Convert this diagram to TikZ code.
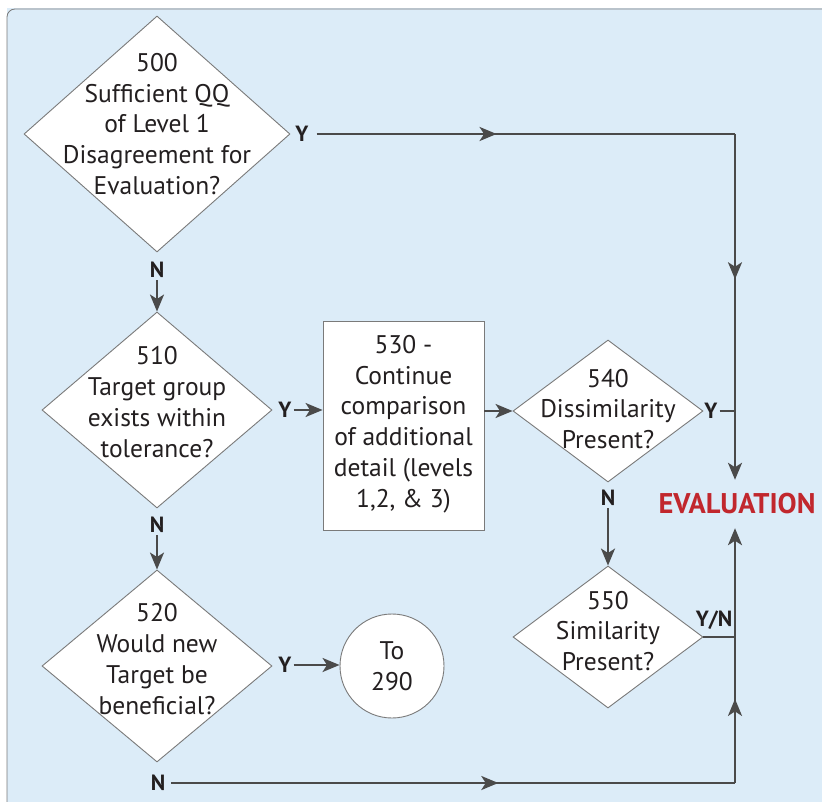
\documentclass[tikz,border=0pt]{standalone}
\usepackage{fontspec}
\setmainfont{PT Sans}
\usetikzlibrary{shapes.geometric,arrows.meta,decorations.markings,calc}
\definecolor{bgedge}{HTML}{B6D9EF}
\definecolor{bgmid}{HTML}{DCECF8}
\definecolor{lineg}{HTML}{4A4A4A}
\definecolor{shapeg}{HTML}{7A7A7A}
\definecolor{evalred}{HTML}{C1272D}
\definecolor{txtc}{HTML}{231F20}
\pgfdeclareradialshading{panelshade}{\pgfpoint{0bp}{0bp}}{color(0bp)=(bgmid); color(42bp)=(bgmid); color(50bp)=(bgedge); color(72bp)=(bgedge)}
\tikzset{
  dec/.style={diamond, draw=shapeg, fill=white, line width=0.9pt, inner sep=0pt},
  procbox/.style={rectangle, draw=shapeg, fill=white, line width=0.9pt, inner sep=0pt},
  termc/.style={circle, draw=shapeg, fill=white, line width=0.9pt, inner sep=0pt, minimum size=104pt},
  txt/.style={align=center, text=txtc, font=\fontsize{25.5}{30.8}\selectfont, inner sep=0pt},
  lab/.style={text=txtc, font=\fontsize{22}{24}\selectfont\bfseries, inner sep=2pt},
  flow/.style={draw=lineg, line width=2.4pt},
  tip/.style={-{Stealth[length=17pt,width=14pt,inset=4.5pt]}},
  midarr/.style={postaction={decorate}, decoration={markings, mark=at position #1 with {\arrow[lineg]{Stealth[length=17pt,width=14pt,inset=4.5pt]}}}},
}
\begin{document}
\begin{tikzpicture}[x=1pt,y=-1pt]
\useasboundingbox (0,0) rectangle (822,802);
% panel
\path[shading=panelshade] (7,9) rectangle (822,802);
\draw[shapeg, line width=0.8pt, rounded corners=8pt] (7,830) -- (7,9) -- (840,9);

% shapes
\node[dec, minimum width=266pt, minimum height=236pt] (d500) at (157,134) {};
\node[txt] at (157,124) {500\\Sufficient QQ\\of Level 1\\Disagreement for\\Evaluation?};

\node[dec, minimum width=230pt, minimum height=196pt] (d510) at (157,410) {};
\node[txt] at (157,402) {510\\Target group\\exists within\\tolerance?};

\node[dec, minimum width=230pt, minimum height=192pt] (d520) at (157,666) {};
\node[txt] at (157,659) {520\\Would new\\Target be\\beneficial?};

\node[procbox, minimum width=161pt, minimum height=209pt] (b530) at (403.5,425.5) {};
\node[txt] at (403.5,424) {530 -\\Continue\\comparison\\of additional\\detail (levels\\1,2, \& 3)};

\node[dec, minimum width=190pt, minimum height=142pt] (d540) at (608,411) {};
\node[txt] at (608,409) {540\\Dissimilarity\\Present?};

\node[dec, minimum width=190pt, minimum height=142pt] (d550) at (608,637) {};
\node[txt] at (608,631) {550\\Similarity\\Present?};

\node[termc] (c290) at (392,666) {};
\node[txt] at (392,666) {To\\290};

\node[text=evalred, font=\fontsize{28.5}{30}\selectfont\bfseries, inner sep=0pt, minimum height=48pt] (eval) at (737,504) {EVALUATION};

% labels
\node[lab] (y500) at (302,134) {Y};
\node[lab] (n500) at (157,270) {N};
\node[lab] (y510) at (285,410) {Y};
\node[lab] (n510) at (157,525) {N};
\node[lab] (y520) at (285,665) {Y};
\node[lab] (n520) at (158,783) {N};
\node[lab] (y540) at (711,411) {Y};
\node[lab] (n540) at (608,498) {N};
\node[lab] (yn550) at (714,620) {Y/N};

% junction coordinates
\coordinate (ctop) at (735,134);
\coordinate (cbot) at (735,783);
\coordinate (c540) at (735,411);
\coordinate (c550) at (735,637);

% connectors
\draw[flow, midarr=0.43] (y500.east) ++(6,0) -- (ctop);
\draw[flow, tip, midarr=0.42] (ctop) -- (eval.north -| ctop);
\draw[flow, tip] (n500.south) -- (d510.north);
\draw[flow, tip] (y510.east) -- (y510.east -| b530.west);
\draw[flow, tip] (d540.west -| b530.east) -- (d540.west);
\draw[flow, tip] (n510.south) -- (d520.north);
\draw[flow, tip] (y520.east) -- (y520.east -| c290.west);
\draw[flow] (y540.east) -- (c540);
\draw[flow, tip] (n540.south) -- (d550.north);
\draw[flow] (d550.east) -- (c550);
\draw[flow, midarr=0.58] (n520.east) ++(4,0) -- (cbot);
\draw[flow, tip, midarr=0.33] (cbot) -- (eval.south -| cbot);
\end{tikzpicture}
\end{document}
